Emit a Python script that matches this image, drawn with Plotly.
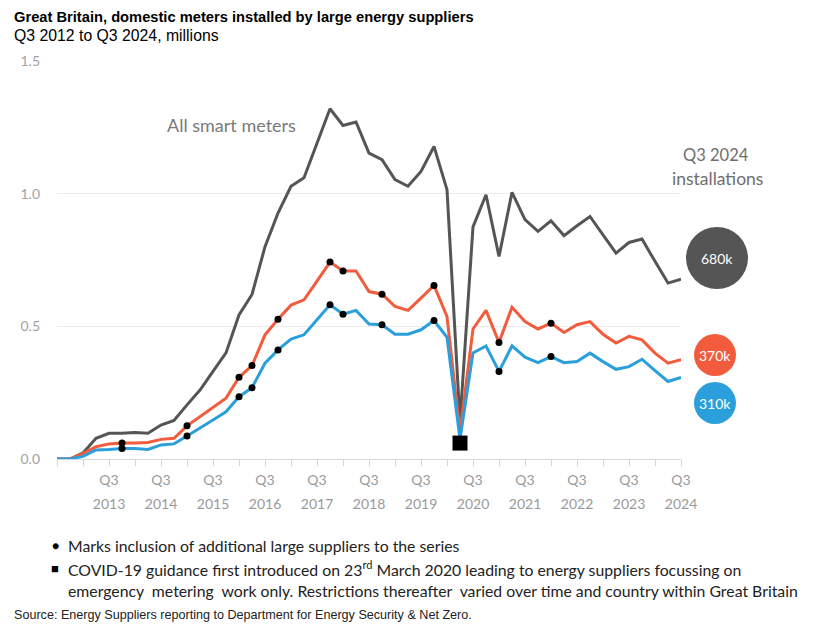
import plotly.graph_objects as go

# ---------------- data ----------------
quarters = []
for yr in range(2012, 2025):
    for qq in (1, 2, 3, 4):
        if (yr == 2012 and qq < 3) or (yr == 2024 and qq > 3):
            continue
        quarters.append(f"Q{qq} {yr}")
x_idx = list(range(len(quarters)))  # 49 quarters, Q3 2012 .. Q3 2024

all_smart = [0.0, 0.0, 0.023, 0.078, 0.097, 0.097, 0.100, 0.097, 0.128, 0.145,
             0.204, 0.26, 0.33, 0.40, 0.543, 0.62, 0.80, 0.927, 1.028, 1.06,
             1.19, 1.32, 1.257, 1.27, 1.153, 1.128, 1.053, 1.028, 1.084, 1.178,
             1.015, 0.14, 0.875, 0.996, 0.763, 1.005, 0.902, 0.858, 0.898, 0.842,
             0.879, 0.914, 0.845, 0.776, 0.816, 0.829, 0.745, 0.663, 0.678]
series_red = [0.0, 0.0, 0.02, 0.046, 0.057, 0.06, 0.06, 0.062, 0.074, 0.078,
              0.125, 0.16, 0.195, 0.229, 0.308, 0.352, 0.468, 0.527, 0.58, 0.6,
              0.67, 0.742, 0.709, 0.709, 0.631, 0.621, 0.575, 0.56, 0.606, 0.654,
              0.537, 0.10, 0.49, 0.56, 0.439, 0.572, 0.518, 0.49, 0.512, 0.477,
              0.506, 0.518, 0.47, 0.437, 0.462, 0.449, 0.399, 0.361, 0.374]
series_blue = [0.0, 0.0, 0.01, 0.034, 0.036, 0.04, 0.04, 0.036, 0.053, 0.057,
               0.087, 0.116, 0.147, 0.178, 0.235, 0.269, 0.361, 0.411, 0.452, 0.468,
               0.525, 0.581, 0.546, 0.56, 0.509, 0.506, 0.47, 0.47, 0.487, 0.522,
               0.459, 0.075, 0.40, 0.426, 0.33, 0.426, 0.384, 0.363, 0.386, 0.363,
               0.367, 0.399, 0.367, 0.338, 0.348, 0.376, 0.333, 0.292, 0.307]
supplier_dot_idx = [5, 10, 14, 15, 17, 21, 22, 25, 29, 34, 38]
covid_idx = 31
covid_value = 0.06
bubble_labels = ["680k", "370k", "310k"]
y_ticks = [0.0, 0.5, 1.0, 1.5]

GRAY = "#555555"
RED = "#F25C3D"
BLUE = "#2A9FDB"

# ---------------- layout geometry ----------------
W, H = 819, 625
L, R, T, B = 57, 681, 61, 459
def fx(px):
    return (px - L) / (R - L)
def fy(py):
    return (B - py) / (B - T)

fig = go.Figure()
for ys, col in [(all_smart, GRAY), (series_red, RED), (series_blue, BLUE)]:
    fig.add_trace(go.Scatter(x=x_idx, y=ys, mode="lines",
                             line=dict(color=col, width=3), cliponaxis=False,
                             hoverinfo="skip"))
for ys in (series_red, series_blue):
    fig.add_trace(go.Scatter(x=[x_idx[i] for i in supplier_dot_idx],
                             y=[ys[i] for i in supplier_dot_idx], mode="markers",
                             marker=dict(color="black", size=7), cliponaxis=False))
fig.add_trace(go.Scatter(x=[x_idx[covid_idx]], y=[covid_value], mode="markers",
                         marker=dict(color="black", size=15, symbol="square"),
                         cliponaxis=False))
# invisible trace on the overlay axis carrying year labels
fig.add_trace(go.Scatter(x=[x_idx[0], x_idx[-1]], y=[0, 0], mode="markers",
                         marker=dict(opacity=0), xaxis="x2", hoverinfo="skip"))

tickvals = list(range(0, len(quarters), 2))
ticktext = []
for i in tickvals:
    q = quarters[i]
    ticktext.append(q.split(" ")[0] if (q.startswith("Q3") and i > 0) else "")
year_vals = [i for i in x_idx if quarters[i].startswith("Q3") and i > 0]
year_text = [quarters[i].split(" ")[1] for i in year_vals]

fig.update_layout(
    width=W, height=H, showlegend=False,
    margin=dict(l=L, r=W - R, t=T, b=H - B, pad=0),
    paper_bgcolor="white", plot_bgcolor="white",
    font=dict(family="Lato", color="#888888"),
    xaxis=dict(range=[0, len(quarters) - 1], tickmode="array", tickvals=tickvals,
               ticktext=ticktext, showgrid=False, zeroline=False, showline=True,
               linecolor="#d6d6d6", linewidth=1, ticks="outside", ticklen=6,
               tickcolor="#d6d6d6", ticklabelstandoff=2,
               tickfont=dict(size=14, color="#9a9a9a", family="Lato")),
    xaxis2=dict(range=[0, len(quarters) - 1], overlaying="x", anchor="y", side="bottom",
                tickmode="array", tickvals=year_vals, ticktext=year_text,
                showgrid=False, zeroline=False, showline=False, ticks="",
                ticklabelstandoff=35,
                tickfont=dict(size=14, color="#9a9a9a", family="Lato")),
    yaxis=dict(range=[0, 1.5], tickvals=y_ticks, ticktext=[f"{v:.1f}" for v in y_ticks],
               showgrid=True, gridcolor="#ececec", gridwidth=1, zeroline=False,
               showline=False, ticks="", ticklabelstandoff=16,
               tickfont=dict(size=14, color="#a3a3a3", family="Lato")),
)

ann = []
def add_text(text, px, py, size, color, family="Lato", xanchor="center", yanchor="middle", bold=False):
    ann.append(dict(text=f"<b>{text}</b>" if bold else text, x=fx(px), y=fy(py),
                    xref="paper", yref="paper", showarrow=False, xanchor=xanchor,
                    yanchor=yanchor, font=dict(size=size, color=color, family=family)))

add_text("Great Britain, domestic meters installed by large energy suppliers", 12, 17, 14.7,
         "#000000", family="Liberation Sans", xanchor="left", bold=True)
add_text("Q3 2012 to Q3 2024, millions", 12, 35, 15.8, "#000000",
         family="Liberation Sans", xanchor="left")
add_text("All smart meters", 231, 125, 18, "#7a7a7a")
add_text("Q3 2024", 716, 155, 16.5, "#6e6e6e")
add_text("installations", 717, 178, 17.5, "#6e6e6e")

# bubbles
bubbles = [(717, 258, 31, GRAY), (715, 355, 21, RED), (715, 403, 21, BLUE)]
for (cx, cy, r, col), lab in zip(bubbles, bubble_labels):
    fig.add_shape(type="circle", xref="paper", yref="paper",
                  x0=fx(cx - r), x1=fx(cx + r), y0=fy(cy + r), y1=fy(cy - r),
                  fillcolor=col, line=dict(width=0), layer="above")
    add_text(lab, cx, cy, 14, "white")

add_text("\u25CF", 55, 545, 12, "#000000")
add_text("Marks inclusion of additional large suppliers to the series", 66, 545, 15.8,
         "#222222", xanchor="left")
add_text("\u25A0", 55, 568, 13, "#000000")
add_text("COVID-19 guidance first introduced on 23<sup>rd</sup> March 2020 leading to energy suppliers focussing on",
         66, 568, 15.8, "#222222", xanchor="left")
add_text("emergency  metering  work only. Restrictions thereafter  varied over time and country within Great Britain",
         66, 590, 15.8, "#222222", xanchor="left")
add_text("Source: Energy Suppliers reporting to Department for Energy Security & Net Zero.",
         12, 615, 12.6, "#222222", family="Liberation Sans", xanchor="left")

fig.update_layout(annotations=ann)
fig.write_html("out.html")
